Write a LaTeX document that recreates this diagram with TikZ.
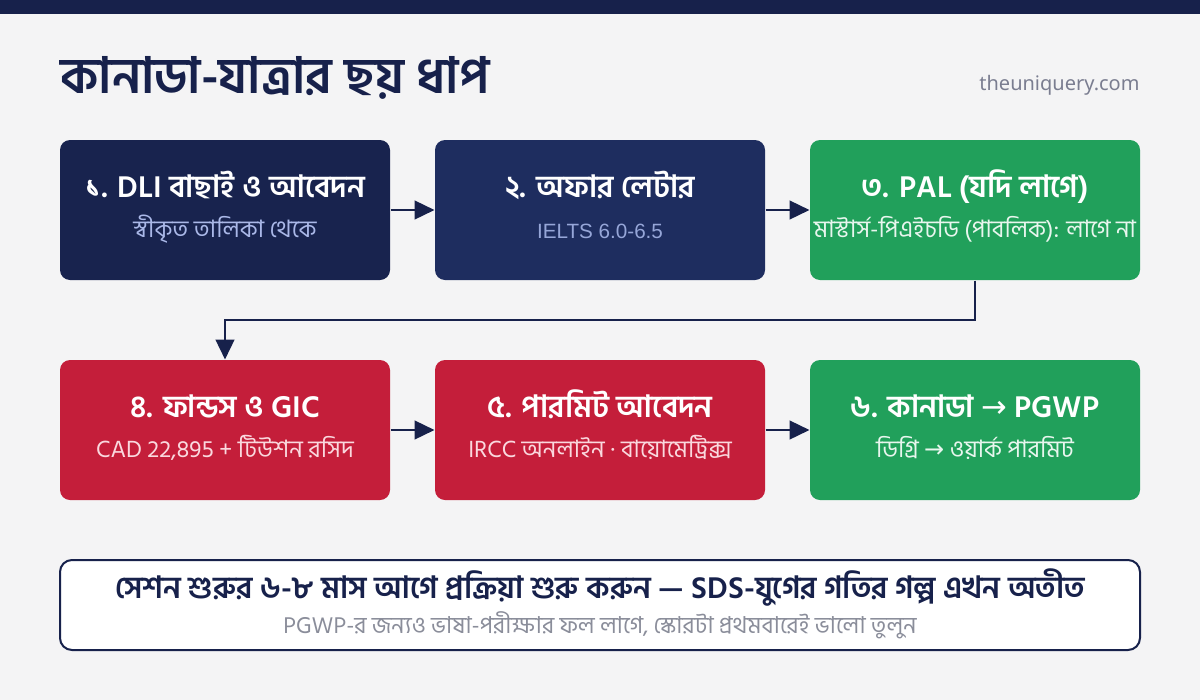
\documentclass[tikz,border=0pt]{standalone}
\usepackage{fontspec}
\usetikzlibrary{arrows.meta}
\setmainfont[Script=Bengali]{Hind Siliguri}
\newfontfamily\lat{Noto Sans}
\newfontfamily\arial{Liberation Sans}
\newfontfamily\sym{DejaVu Sans}
\newcommand{\rarr}{{\sym\mdseries →}}

\definecolor{navybar}{RGB}{23,33,75}
\definecolor{navyone}{RGB}{24,35,78}
\definecolor{navytwo}{RGB}{30,45,95}
\definecolor{stepgreen}{RGB}{33,160,91}
\definecolor{stepred}{RGB}{196,30,58}
\definecolor{pagebg}{RGB}{244,244,245}
\definecolor{urlgray}{RGB}{122,125,144}
\definecolor{notegray}{RGB}{138,141,154}

\tikzset{every picture/.style={line width=0.75pt}}
\tikzset{
	stepbox/.style={rounded corners=7.5pt, minimum width=247.5pt, minimum height=105pt, inner sep=0pt},
	steptitle/.style={anchor=base, text=white, font=\bfseries\fontsize{23}{26}\selectfont},
	stepsub/.style={anchor=base, font=\fontsize{18}{21}\selectfont},
	flow/.style={draw=navybar, line width=1.9pt, -{Triangle[length=15pt, width=14pt]}}
}

\begin{document}
\begin{tikzpicture}[x=0.75pt,y=0.75pt,yscale=-1,xscale=1]
	%set diagram to 1200 x 700
	\fill [pagebg] (0,0) rectangle (1200,700);
	\useasboundingbox (0,0) rectangle (1200,700);
	%Shape: Rectangle [top bar]
	\fill [navybar] (0,0) rectangle (1200,14);

	% Text Node
	\node (title) [anchor=base west, inner sep=0pt, text=navybar, font=\bfseries\fontsize{37.5}{42}\selectfont] at (60,93) {কানাডা-যাত্রার ছয় ধাপ};
	% Text Node
	\node (url) [anchor=base east, inner sep=0pt, text=urlgray, font=\lat\fontsize{15}{18}\selectfont] at (1140,90) {theuniquery.com};

	%Shape: Rectangle [steps, first row]
	\node (step1) [stepbox, fill=navyone] at (225,210) {};
	\node (step2) [stepbox, fill=navytwo] at (600,210) {};
	\node (step3) [stepbox, fill=stepgreen] at (975,210) {};
	%Shape: Rectangle [steps, second row]
	\node (step4) [stepbox, fill=stepred] at (225,430) {};
	\node (step5) [stepbox, fill=stepred] at (600,430) {};
	\node (step6) [stepbox, fill=stepgreen] at (975,430) {};

	% Text Node
	\node (step1title) [steptitle] at (225,197) {১. DLI বাছাই ও আবেদন};
	\node (step1sub) [stepsub, text={rgb,255:red,170;green,184;blue,232}] at (225,237) {স্বীকৃত তালিকা থেকে};
	% Text Node
	\node (step2title) [steptitle] at (600,197) {২. অফার লেটার};
	\node (step2sub) [stepsub, text={rgb,255:red,150;green,166;blue,216}, font=\arial\fontsize{15.5}{18}\selectfont] at (600,238) {IELTS 6.0-6.5};
	% Text Node
	\node (step3title) [steptitle] at (975,197) {৩. PAL (যদি লাগে)};
	\node (step3sub) [stepsub, text={rgb,255:red,232;green,246;blue,238}] at (975,237) {মাস্টার্স-পিএইচডি (পাবলিক): লাগে না};
	% Text Node
	\node (step4title) [steptitle] at (225,417) {৪. ফান্ডস ও GIC};
	\node (step4sub) [stepsub, text={rgb,255:red,250;green,216;blue,222}] at (225,457) {CAD 22,895 + টিউশন রসিদ};
	% Text Node
	\node (step5title) [steptitle] at (600,417) {৫. পারমিট আবেদন};
	\node (step5sub) [stepsub, text={rgb,255:red,250;green,216;blue,222}] at (600,457) {IRCC অনলাইন · বায়োমেট্রিক্স};
	% Text Node
	\node (step6title) [steptitle] at (975,417) {৬. কানাডা \rarr{} PGWP};
	\node (step6sub) [stepsub, text={rgb,255:red,232;green,246;blue,238}] at (975,457) {ডিগ্রি \rarr{} ওয়ার্ক পারমিট};

	%Straight Lines [arrows]
	\draw [flow] (step1) -- (step2);
	\draw [flow] (step2) -- (step3);
	\draw [flow] (step4) -- (step5);
	\draw [flow] (step5) -- (step6);
	%Elbow Line [row change]
	\draw [flow] (step3.south) |- (600,320) -| (step4.north);

	%Shape: Rectangle [note]
	\node (note) [draw=navybar, line width=1.5pt, fill=white, rounded corners=9pt, minimum width=810pt, minimum height=67.5pt, inner sep=0pt] at (600,605) {};
	% Text Node
	\node (notemain) [anchor=base, text=navybar, font=\bfseries\fontsize{23}{26}\selectfont] at (600,598) {সেশন শুরুর ৬-৮ মাস আগে প্রক্রিয়া শুরু করুন — SDS-যুগের গতির গল্প এখন অতীত};
	% Text Node
	\node (notesub) [anchor=base, text=notegray, font=\fontsize{17.5}{20}\selectfont] at (600,633) {PGWP-র জন্যও ভাষা-পরীক্ষার ফল লাগে, স্কোরটা প্রথমবারেই ভালো তুলুন};
\end{tikzpicture}
\end{document}
